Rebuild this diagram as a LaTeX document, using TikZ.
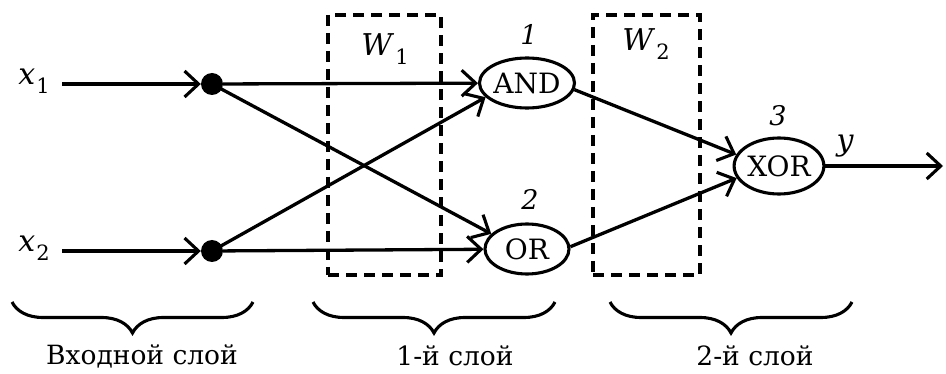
\documentclass[tikz,border=0pt]{standalone}
\usepackage{fontspec}
\setmainfont{DejaVu Serif}
\usetikzlibrary{arrows.meta,shapes.geometric,decorations.pathreplacing}

% italic symbol with a lowered upright index
\newcommand{\symidx}[2]{\textit{#1}\kern1pt\raisebox{-0.30em}{\fontsize{21}{21}\selectfont #2}}

\begin{document}
\begin{tikzpicture}[x=1pt,y=-1pt,
  wire/.style={line width=3.3pt,
    -{Straight Barb[length=14pt,width=26pt,line width=3.1pt]}},
  gate/.style={draw, ellipse, line width=3.1pt, inner sep=0pt,
    minimum width=84pt, minimum height=50pt,
    font=\fontsize{28}{28}\selectfont},
  dotnode/.style={circle, fill=black, inner sep=0pt, minimum size=22pt},
  weightbox/.style={draw, line width=3.2pt, dash pattern=on 11pt off 7pt},
  lbl/.style={inner sep=0pt, font=\fontsize{30}{30}\selectfont},
  numlbl/.style={inner sep=0pt, font=\fontsize{27}{27}\selectfont\itshape},
  layerbrace/.style={line width=3.1pt, decorate,
    decoration={brace, mirror, amplitude=31pt}},
  layertext/.style={inner sep=0pt, font=\fontsize{26.5}{26.5}\selectfont}
]
\useasboundingbox (0,0) rectangle (946,374);

% weight matrices
\node[weightbox, minimum width=113pt, minimum height=260pt, inner sep=0pt]
  (w1box) at (384.5,145) {};
\node[weightbox, minimum width=107pt, minimum height=260pt, inner sep=0pt]
  (w2box) at (646.5,145) {};
\node[lbl] (w1) at (385,49) {\symidx{W}{1}};
\node[lbl] (w2) at (646,44) {\symidx{W}{2}};

% inputs
\node[lbl] (x1) at (34,81) {\symidx{x}{1}};
\node[lbl] (x2) at (34,248) {\symidx{x}{2}};
\coordinate (in1) at (62,84);
\coordinate (in2) at (62,251);
\node[dotnode] (d1) at (212,84) {};
\node[dotnode] (d2) at (212,251) {};

% neurons
\node[gate] (and) at (527,83) {AND};
\node[gate] (or)  at (527,249) {OR};
\node[gate, minimum height=56pt] (xor) at (779,166) {XOR};
\node[numlbl] (n1) at (529,34) {1};
\node[numlbl] (n2) at (530,199) {2};
\node[numlbl] (n3) at (778,116) {3};
\node[lbl, font=\fontsize{30}{30}\selectfont\itshape] (yl) at (845,146) {y};
\coordinate (out) at (943,166);

% connections
\draw[wire] (in1) -- (d1);
\draw[wire] (in2) -- (d2);
\draw[wire] (d1) -- (and);
\draw[wire] (d1.center) -- (or.157);
\draw[wire] (d2.center) -- (and.199);
\draw[wire] (d2) -- (or);
\draw[wire] (and.-8) -- (xor.165);
\draw[wire] (or.3) -- (xor.196);
\draw[wire] (xor) -- (out);

% layer braces
\coordinate (b1l) at (12,302);  \coordinate (b1r) at (253,302);
\coordinate (b2l) at (313,302); \coordinate (b2r) at (555,302);
\coordinate (b3l) at (610,302); \coordinate (b3r) at (852,302);
\draw[layerbrace] (b1l) -- (b1r);
\draw[layerbrace] (b2l) -- (b2r);
\draw[layerbrace] (b3l) -- (b3r);
\node[layertext] (t1) at (142,356) {Входной слой};
\node[layertext] (t2) at (455,356) {1-й слой};
\node[layertext] (t3) at (755,356) {2-й слой};
\end{tikzpicture}
\end{document}
